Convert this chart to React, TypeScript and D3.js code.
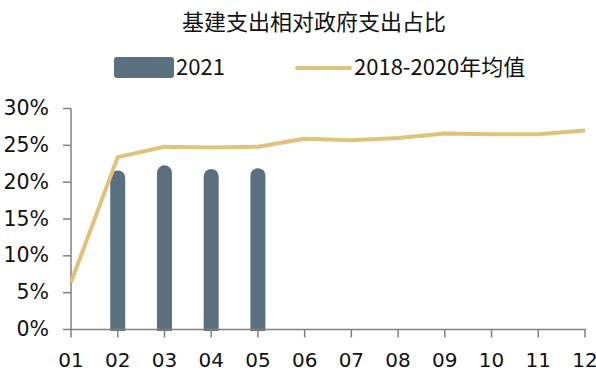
import React from "react";
import * as d3 from "d3";

const months = ["01", "02", "03", "04", "05", "06", "07", "08", "09", "10", "11", "12"];
const values2021 = [null, 21.6, 22.3, 21.8, 21.9, null, null, null, null, null, null, null];
const avg2018_2020 = [6.4, 23.4, 24.8, 24.7, 24.8, 25.9, 25.7, 26.0, 26.6, 26.5, 26.5, 27.0];
const yTicks = [0, 5, 10, 15, 20, 25, 30];

const W = 596, H = 379;
const CJK = "'Noto Sans CJK SC', 'Noto Sans', sans-serif";
const AXF = "'DejaVu Sans', sans-serif";

export default function App() {
  const x = d3.scalePoint<string>().domain(months).range([71, 585]);
  const y = d3.scaleLinear().domain([0, 30]).range([329.5, 108.5]);
  const barW = 15;
  const line = d3
    .line<number>()
    .x((_, i) => x(months[i])!)
    .y((d) => y(d));

  return (
    <svg width={W} height={H} style={{ position: "absolute", left: 0, top: 0, background: "#fff" }}>
      <text x={314} y={30} textAnchor="middle" fontSize={22} fill="#111" fontFamily={CJK}>基建支出相对政府支出占比</text>
      {/* legend */}
      <rect x={114} y={57} width={60} height={21} rx={3} fill="#5a707e" />
      <text x={176} y={75} fontSize={22} fill="#111" fontFamily={CJK}>2021</text>
      <line x1={297} x2={350} y1={68} y2={68} stroke="#e0c27a" strokeWidth={4} strokeLinecap="round" />
      <text x={354} y={75} fontSize={22} fill="#111" fontFamily={CJK}>2018-2020年均值</text>

      {/* y axis */}
      <line x1={71} x2={71} y1={y(30)} y2={y(0)} stroke="#808080" strokeWidth={1.5} />
      {yTicks.map((t) => (
        <g key={t}>
          <line x1={63} x2={71} y1={y(t)} y2={y(t)} stroke="#808080" strokeWidth={1.5} />
          <text x={49} y={y(t) + 6.5} textAnchor="end" fontSize={20.5} fill="#111" fontFamily={AXF}>{t}%</text>
        </g>
      ))}

      {/* bars */}
      {values2021.map((v, i) =>
        v == null ? null : (
          <path
            key={i}
            d={(() => {
              const cx = x(months[i])!;
              const l = cx - barW / 2, r = cx + barW / 2;
              const top = y(v), bot = y(0) + 1.5, rr = barW / 2;
              return `M${l},${bot}L${l},${top + rr}A${rr},${rr} 0 0 1 ${r},${top + rr}L${r},${bot}Z`;
            })()}
            fill="#5a707e"
          />
        )
      )}

      {/* x axis */}
      <line x1={71} x2={586} y1={y(0)} y2={y(0)} stroke="#808080" strokeWidth={1.5} />
      {months.map((m) => (
        <g key={m}>
          <line x1={x(m)!} x2={x(m)!} y1={y(0)} y2={y(0) + 8} stroke="#808080" strokeWidth={1.5} />
          <text x={x(m)!} y={367} textAnchor="middle" fontSize={20} fill="#111" fontFamily={AXF}>{m}</text>
        </g>
      ))}

      {/* line */}
      <path d={line(avg2018_2020)!} fill="none" stroke="#e0c27a" strokeWidth={4} strokeLinejoin="round" />
    </svg>
  );
}
